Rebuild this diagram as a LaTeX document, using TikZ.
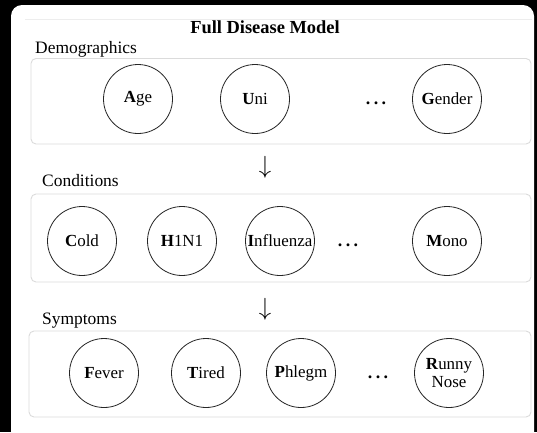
\documentclass[tikz,border=0pt]{standalone}
\usepackage{fontspec}
\setmainfont{Liberation Serif}
\begin{document}
\begin{tikzpicture}[x=1bp,y=-1bp,
  var/.style={circle,draw=black!85,line width=0.8bp,minimum size=69bp,inner sep=0pt,
    font=\fontsize{17}{18}\selectfont,align=center},
  panel/.style={draw=black!14,line width=0.9bp,rounded corners=5bp},
  grouplabel/.style={anchor=base west,inner sep=0pt,font=\fontsize{17.5}{20}\selectfont},
  more/.style={inner sep=0pt,font=\fontsize{18}{19}\selectfont\bfseries},
  flow/.style={inner sep=0pt,font=\fontsize{25}{27}\selectfont}]
\useasboundingbox (0,0) rectangle (537,432);
% dark surround and white sheet
\fill[black] (0,0) rectangle (537,432);
\fill[white,rounded corners=11bp] (11,5) rectangle (534,448);
\draw[black!7,line width=0.8bp] (25,19.5) -- (532,19.5);

% title
\node[anchor=base,inner sep=0pt,font=\fontsize{18.5}{20}\selectfont\bfseries] (title) at (265,33) {Full Disease Model};

% demographics
\node[grouplabel] (demlabel) at (35,53) {Demographics};
\draw[panel] (31,58.5) rectangle (531,144);
\node[var] (age) at (138,99) {\textbf{A}ge};
\node[var] (uni) at (255,99) {\textbf{U}ni};
\node[more] (demmore) at (376,103) {.\kern3.5bp.\kern3.5bp.};
\node[var] (gender) at (447,99) {\textbf{G}ender};

\node[flow] (arrowone) at (265,167) {$\downarrow$};

% conditions
\node[grouplabel] (condlabel) at (42,186) {Conditions};
\draw[panel] (31,194) rectangle (531,282);
\node[var] (cold) at (82,241) {\textbf{C}old};
\node[var] (hnone) at (182,241) {\textbf{H}1N1};
\node[var] (flu) at (280,241) {\textbf{I}nfluenza};
\node[more] (condmore) at (348,245) {.\kern3.5bp.\kern3.5bp.};
\node[var] (mono) at (447,241) {\textbf{M}ono};

\node[flow] (arrowtwo) at (265,309) {$\downarrow$};

% symptoms
\node[grouplabel] (symlabel) at (42,324) {Symptoms};
\draw[panel] (29,331) rectangle (531,417);
\node[var] (fever) at (104,373) {\textbf{F}ever};
\node[var] (tired) at (206,373) {\textbf{T}ired};
\node[var] (phlegm) at (301,373) {\textbf{P}hlegm};
\node[more] (symmore) at (378,377) {.\kern3.5bp.\kern3.5bp.};
\node[var] (runny) at (449,373) {\textbf{R}unny\\Nose};
\end{tikzpicture}
\end{document}
